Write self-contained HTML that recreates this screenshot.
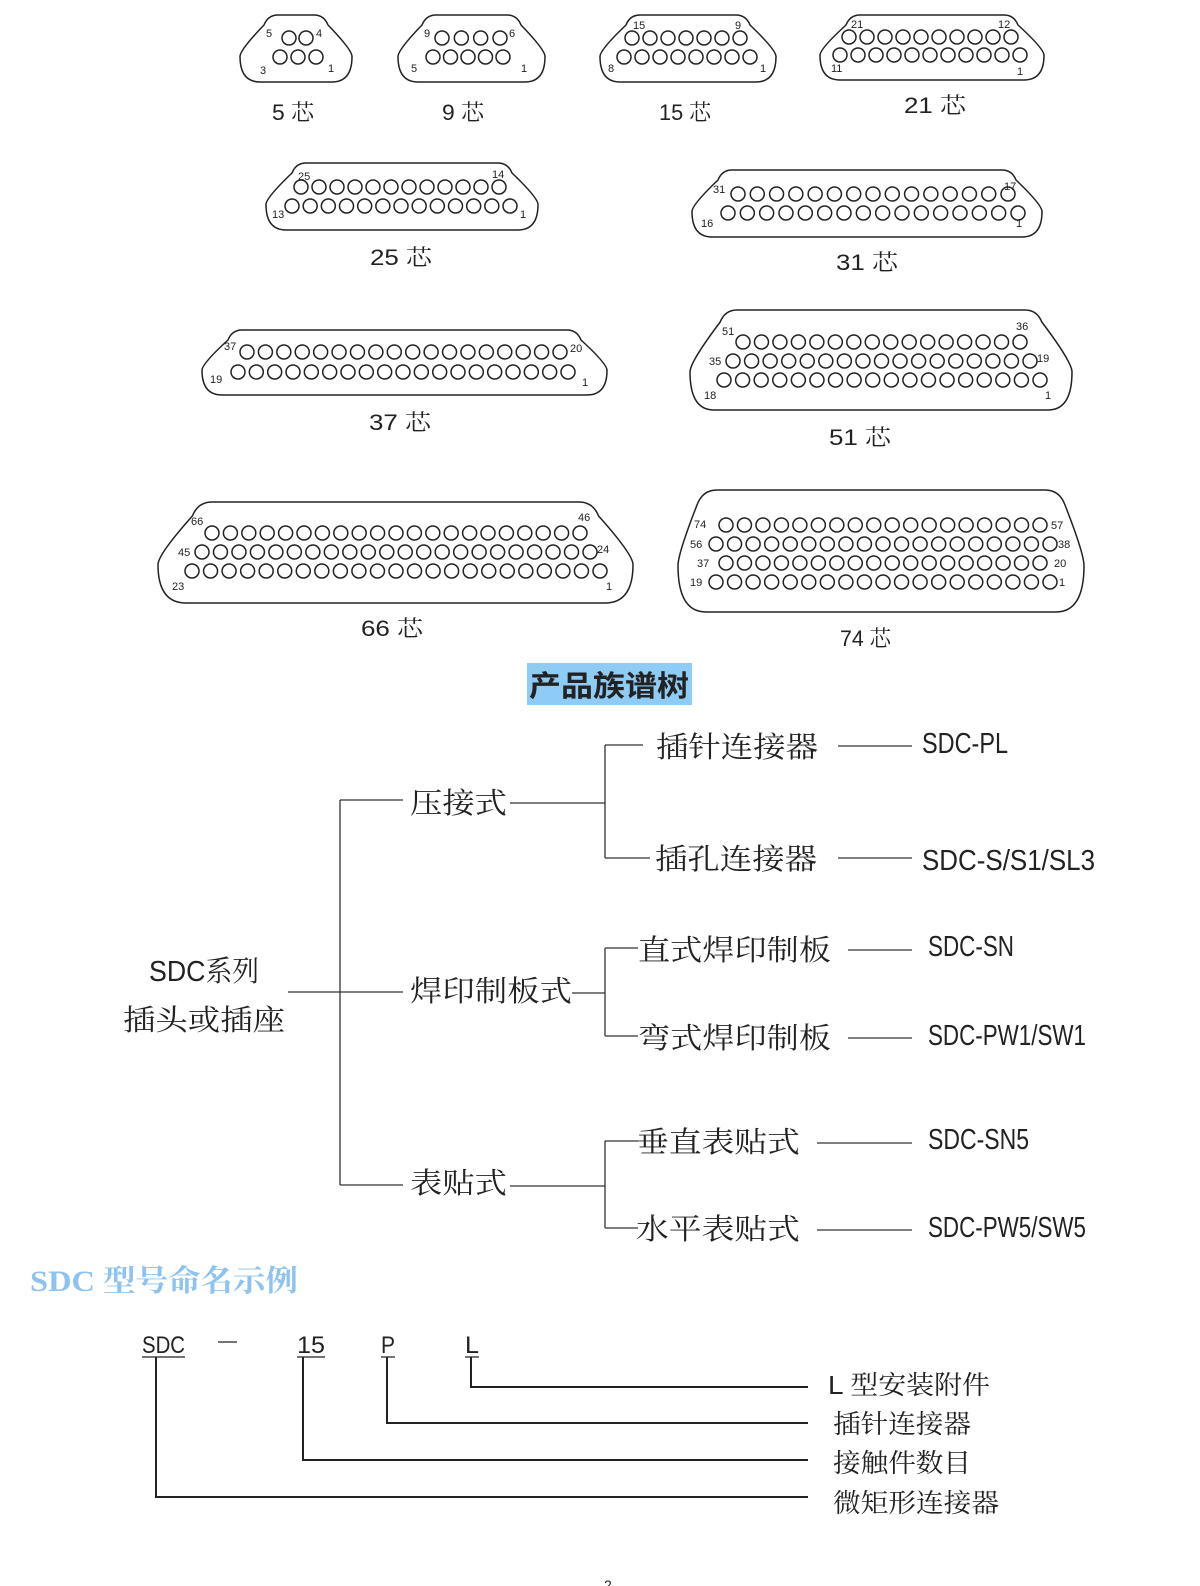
<!DOCTYPE html>
<html><head><meta charset="utf-8"><style>
html,body{margin:0;padding:0;background:#fff;width:1200px;height:1586px;overflow:hidden}
svg text{font-family:"Liberation Serif","Noto Serif CJK SC",serif;fill:#222}
svg text.c, svg .c text{font-family:"Liberation Sans","Noto Serif CJK SC",sans-serif}
svg .n text{font-family:"Liberation Sans",sans-serif;font-size:11px}
</style></head><body>
<svg id="s" width="1200" height="1586" viewBox="0 0 1200 1586" xmlns="http://www.w3.org/2000/svg">
<g id="conn" fill="none" stroke="#222" stroke-width="1.5"></g>
<g id="holes" fill="none" stroke="#222" stroke-width="1.5"></g>
<g font-size="22" class="c">
<text x="272" y="120" textLength="42" lengthAdjust="spacingAndGlyphs">5 芯</text>
<text x="442" y="120" textLength="42" lengthAdjust="spacingAndGlyphs">9 芯</text>
<text x="659" y="120" textLength="52" lengthAdjust="spacingAndGlyphs">15 芯</text>
<text x="904" y="113" textLength="62" lengthAdjust="spacingAndGlyphs">21  芯</text>
<text x="370" y="265" textLength="62" lengthAdjust="spacingAndGlyphs">25  芯</text>
<text x="836" y="270" textLength="62" lengthAdjust="spacingAndGlyphs">31  芯</text>
<text x="369" y="430" textLength="62" lengthAdjust="spacingAndGlyphs">37  芯</text>
<text x="829" y="445" textLength="62" lengthAdjust="spacingAndGlyphs">51  芯</text>
<text x="361" y="636" textLength="62" lengthAdjust="spacingAndGlyphs">66  芯</text>
<text x="840" y="646" textLength="51" lengthAdjust="spacingAndGlyphs">74 芯</text>
</g>
<g class="n">
<text x="266" y="37">5</text><text x="316" y="37">4</text><text x="260" y="74">3</text><text x="328" y="72">1</text>
<text x="424" y="37">9</text><text x="509" y="37">6</text><text x="411" y="72">5</text><text x="521" y="72">1</text>
<text x="633" y="29">15</text><text x="735" y="29">9</text><text x="608" y="72">8</text><text x="760" y="72">1</text>
<text x="851" y="28">21</text><text x="998" y="28">12</text><text x="831" y="72">11</text><text x="1017" y="75">1</text>
<text x="298" y="180">25</text><text x="492" y="178">14</text><text x="272" y="218">13</text><text x="520" y="218">1</text>
<text x="713" y="193">31</text><text x="1004" y="190">17</text><text x="701" y="227">16</text><text x="1016" y="227">1</text>
<text x="224" y="350">37</text><text x="570" y="352">20</text><text x="210" y="383">19</text><text x="582" y="386">1</text>
<text x="722" y="335">51</text><text x="1016" y="330">36</text><text x="709" y="365">35</text><text x="1037" y="362">19</text><text x="704" y="399">18</text><text x="1045" y="399">1</text>
<text x="191" y="525">66</text><text x="578" y="521">46</text><text x="178" y="556">45</text><text x="597" y="553">24</text><text x="172" y="590">23</text><text x="606" y="590">1</text>
<text x="694" y="528">74</text><text x="1051" y="529">57</text><text x="690" y="548">56</text><text x="1058" y="548">38</text><text x="697" y="567">37</text><text x="1054" y="567">20</text><text x="690" y="586">19</text><text x="1059" y="586">1</text>
</g>
<rect x="527" y="663" width="165" height="42" fill="#8ecbf5"/>
<text x="529" y="696" font-size="29" font-weight="bold" style="font-family:'Noto Sans CJK SC',sans-serif" fill="#000" textLength="160" lengthAdjust="spacingAndGlyphs">产品族谱树</text>
<g stroke="#333" stroke-width="1.3" fill="none">
<path d="M288 992H403M340 800V1185M340 800H403M340 1185H403"/>
<path d="M510 803H605M572 993H605M510 1186H605"/>
<path d="M605 745V858M605 745H643M605 858H650"/>
<path d="M605 948V1036M605 948H638M605 1036H638"/>
<path d="M605 1141V1228M605 1141H638M605 1228H638"/>
<path d="M838 746H912M838 858H912M848 950H912M848 1038H912M817 1143H912M817 1230H912"/>
</g>
<g font-size="29" class="c">
<text x="149" y="981" textLength="110" lengthAdjust="spacingAndGlyphs">SDC系列</text>
<text x="123" y="1030" textLength="162" lengthAdjust="spacingAndGlyphs">插头或插座</text>
<text x="410" y="813" textLength="97" lengthAdjust="spacingAndGlyphs">压接式</text>
<text x="410" y="1001" textLength="162" lengthAdjust="spacingAndGlyphs">焊印制板式</text>
<text x="410" y="1193" textLength="97" lengthAdjust="spacingAndGlyphs">表贴式</text>
<text x="656" y="757" textLength="162" lengthAdjust="spacingAndGlyphs">插针连接器</text>
<text x="655" y="869" textLength="162" lengthAdjust="spacingAndGlyphs">插孔连接器</text>
<text x="638" y="960" textLength="193" lengthAdjust="spacingAndGlyphs">直式焊印制板</text>
<text x="638" y="1048" textLength="193" lengthAdjust="spacingAndGlyphs">弯式焊印制板</text>
<text x="636" y="1152" textLength="164" lengthAdjust="spacingAndGlyphs">垂直表贴式</text>
<text x="636" y="1239" textLength="164" lengthAdjust="spacingAndGlyphs">水平表贴式</text>
<text x="922" y="753" textLength="86" lengthAdjust="spacingAndGlyphs">SDC-PL</text>
<text x="922" y="870" textLength="173" lengthAdjust="spacingAndGlyphs">SDC-S/S1/SL3</text>
<text x="928" y="956" textLength="86" lengthAdjust="spacingAndGlyphs">SDC-SN</text>
<text x="928" y="1045" textLength="158" lengthAdjust="spacingAndGlyphs">SDC-PW1/SW1</text>
<text x="928" y="1149" textLength="101" lengthAdjust="spacingAndGlyphs">SDC-SN5</text>
<text x="928" y="1237" textLength="158" lengthAdjust="spacingAndGlyphs">SDC-PW5/SW5</text>
</g>
<text x="30" y="1291" font-size="30" font-weight="bold" style="fill:#8fc3ef;font-family:'Liberation Serif','Noto Serif CJK SC',serif" textLength="268" lengthAdjust="spacingAndGlyphs">SDC 型号命名示例</text>
<g font-size="24" class="c">
<text x="142" y="1353" textLength="43" lengthAdjust="spacingAndGlyphs">SDC</text>
<text x="297" y="1353" textLength="28" lengthAdjust="spacingAndGlyphs">15</text>
<text x="381" y="1353" textLength="14" lengthAdjust="spacingAndGlyphs">P</text>
<text x="465" y="1353" textLength="14" lengthAdjust="spacingAndGlyphs">L</text>
</g>
<g stroke="#222" fill="none">
<path stroke-width="1.2" d="M142 1357H185M297 1357H325M381 1357H395M465 1357H479M218 1342H237"/>
<path stroke-width="2" d="M156 1357V1497H808M303 1357V1460H808M387 1357V1423H808M471 1357V1387H808"/>
</g>
<g font-size="26" class="c">
<text x="828" y="1394" textLength="162" lengthAdjust="spacingAndGlyphs">L 型安装附件</text>
<text x="833" y="1433" textLength="138" lengthAdjust="spacingAndGlyphs">插针连接器</text>
<text x="833" y="1472" textLength="138" lengthAdjust="spacingAndGlyphs">接触件数目</text>
<text x="833" y="1512" textLength="166" lengthAdjust="spacingAndGlyphs">微矩形连接器</text>
</g>
<text x="604" y="1590" font-size="14" class="c">2</text>
</svg>
<script>
var NS="http://www.w3.org/2000/svg";
function sh(L,T,R,B,s,r){
 var H=B-T, my=T+H*0.62;
 var d="M"+(L+s+r)+" "+T+" H"+(R-s-r)+" Q"+(R-s)+" "+T+" "+(R-s+r*0.4)+" "+(T+r)+
 " Q"+R+" "+(my-H*0.1)+" "+R+" "+my+" Q"+R+" "+B+" "+(R-r*2)+" "+B+" H"+(L+r*2)+" Q"+L+" "+B+" "+L+" "+my+
 " Q"+L+" "+(my-H*0.1)+" "+(L+s-r*0.4)+" "+(T+r)+" Q"+(L+s)+" "+T+" "+(L+s+r)+" "+T+" Z";
 var p=document.createElementNS(NS,"path");p.setAttribute("d",d);document.getElementById("conn").appendChild(p);
}
function row(n,x0,x1,y,r){
 r=r||7;
 for(var i=0;i<n;i++){var c=document.createElementNS(NS,"circle");
 c.setAttribute("cx",n>1?x0+(x1-x0)*i/(n-1):x0);c.setAttribute("cy",y);c.setAttribute("r",r);
 document.getElementById("holes").appendChild(c);}
}
sh(240,15,352,82,28,10);row(2,289,306,38);row(3,280,316,57);
sh(398,15,545,82,28,10);row(4,442,500,38);row(5,433,503,57);
sh(600,15,776,82,30,10);row(7,632,740,38);row(8,624,750,57);
sh(820,15,1044,80,30,10);row(10,849,1011,37);row(11,840,1020,55);
sh(266,163,538,230,30,10);row(12,301,499,187);row(13,292,510,206);
sh(692,170,1042,237,30,10);row(15,738,1008,194);row(16,728,1018,213);
sh(202,330,607,395,30,10);row(18,247,560,352);row(19,238,568,372);
sh(690,310,1072,410,35,12);row(16,743,1020,342);row(17,733,1030,361);row(18,724,1040,380);
sh(158,502,633,603,40,14);row(21,212,580,533);row(22,202,590,552);row(23,192,600,571);
sh(678,490,1084,612,25,14);row(18,726,1040,525);row(19,716,1050,544);row(18,726,1040,563);row(19,716,1050,582);
</script>
</body></html>
